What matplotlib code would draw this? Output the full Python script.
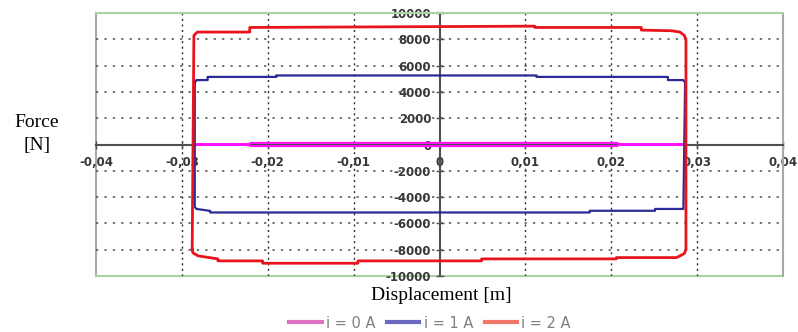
import numpy as np
import matplotlib
matplotlib.use('Agg')
import matplotlib.pyplot as plt
from matplotlib.lines import Line2D
from matplotlib.ticker import FuncFormatter

# loops (displacement [m], force [N])
x_0A = [-0.0285, -0.0223, -0.0220, 0.0207, 0.0210, 0.0284,
        0.0210, 0.0207, -0.0220, -0.0223, -0.0285]
f_0A = [0, 0, 120, 120, 0, 0,
        0, -120, -120, 0, 0]

x_1A = [-0.0285, -0.0283, -0.0270, -0.0270, -0.0190, -0.0190, 0.0113, 0.0113,
        0.0266, 0.0266, 0.0284, 0.0286, 0.0284, 0.0251, 0.0251, 0.0175, 0.0175,
        -0.0267, -0.0267, -0.0283, -0.0285, -0.0285]
f_1A = [4700, 4900, 4900, 5140, 5140, 5250, 5250, 5140,
        5140, 4900, 4900, 4700, -4900, -4900, -5040, -5040, -5170,
        -5170, -5050, -4900, -4750, 4700]

x_2A = [-0.0288, -0.0286, -0.0282, -0.0221, -0.0221, 0.0111, 0.0111, 0.0235,
        0.0235, 0.0270, 0.0280, 0.0285, 0.0287, 0.0287, 0.0285, 0.0276, 0.0206,
        0.0206, 0.0049, 0.0049, -0.0095, -0.0095, -0.0206, -0.0206, -0.0258,
        -0.0258, -0.0281, -0.0287, -0.0288]
f_2A = [-8000, 8300, 8550, 8550, 8900, 9000, 8900, 8900,
        8700, 8650, 8550, 8300, 8000, -8000, -8300, -8600, -8600,
        -8700, -8700, -8850, -8850, -9030, -9030, -8850, -8850,
        -8700, -8470, -8250, -8000]

x_ticks = [-0.04, -0.03, -0.02, -0.01, 0, 0.01, 0.02, 0.03, 0.04]
y_ticks = [-10000, -8000, -6000, -4000, -2000, 0, 2000, 4000, 6000, 8000, 10000]
labels = ['i = 0 A', 'i = 1 A', 'i = 2 A']

fig = plt.figure(figsize=(7.98, 3.32), dpi=100)
ax = fig.add_axes([96/798, 1-276/332, 687/798, 263/332])

ax.plot(x_0A, f_0A, color='#ff10ff', lw=1.5, zorder=3)
ax.plot(x_1A, f_1A, color='#2a2a9a', lw=1.6, zorder=4)
ax.plot(x_2A, f_2A, color='#e8141c', lw=2.0, zorder=5)

ax.set_xlim(-0.04, 0.04)
ax.set_ylim(-10000, 10000)
ax.set_xticks(x_ticks)
ax.set_yticks(y_ticks)


def fmt_x(v, pos):
    if abs(v) < 1e-9:
        return '0'
    return ('%.2f' % v).replace('.', ',')


ax.xaxis.set_major_formatter(FuncFormatter(fmt_x))
ax.yaxis.set_major_formatter(FuncFormatter(lambda v, p: '%d' % v))

# axes cross in the middle, outer frame drawn separately
ax.spines['left'].set_position(('data', 0))
ax.spines['bottom'].set_position(('data', 0))
ax.spines['left'].set_color('#505050')
ax.spines['bottom'].set_color('#505050')
ax.spines['left'].set_linewidth(1.5)
ax.spines['bottom'].set_linewidth(1.5)
ax.spines['top'].set_color('#a8d4a0')
ax.spines['right'].set_color('#a8a8a8')
ax.spines['top'].set_linewidth(1.5)
ax.spines['right'].set_linewidth(1.5)
ax.axvline(-0.04, color='#a8a8a8', lw=1.5, clip_on=False, zorder=1)
ax.axhline(-10000, color='#a8d4a0', lw=1.5, clip_on=False, zorder=1)

for v in x_ticks[1:-1]:
    if v != 0:
        ax.axvline(v, color='#303030', lw=1.0, ls=(0, (1.5, 2.5)), zorder=1)
for v in y_ticks[1:-1]:
    if v != 0:
        ax.axhline(v, color='#505050', lw=1.1, ls=(0, (1.5, 4)), zorder=1)

ax.tick_params(axis='both', direction='inout', length=6, width=1, color='#505050',
               labelsize=8.5, labelcolor='#383838')
ax.tick_params(axis='y', pad=3)
ax.tick_params(axis='x', pad=5)
for t in ax.get_xticklabels() + ax.get_yticklabels():
    t.set_fontweight('bold')

fig.text(37/798, 1-134/332, 'Force\n[N]', family='Liberation Serif', fontsize=14,
         ha='center', va='center', linespacing=1.45)
fig.text(441/798, 1-295/332, 'Displacement [m]', family='Liberation Serif',
         fontsize=14, ha='center', va='center')

handles = [Line2D([], [], color=c, lw=3) for c in ['#e070c0', '#6a6ac0', '#f07868']]
fig.legend(handles, labels, loc='center', bbox_to_anchor=(430/798, 1-323/332),
           ncol=3, frameon=False, fontsize=10.5, handlelength=2.2,
           handletextpad=0.3, columnspacing=0.8, labelcolor='#808080',
           borderpad=0, borderaxespad=0)

fig.savefig('out.png', dpi=100)
